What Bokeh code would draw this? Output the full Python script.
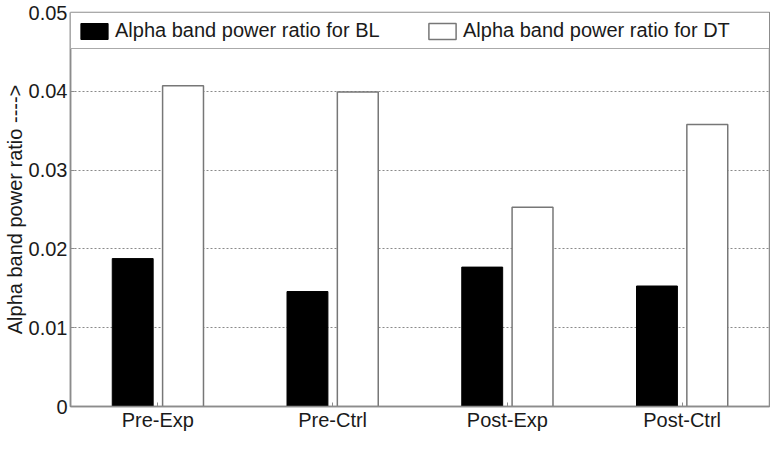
from bokeh.plotting import figure
from bokeh.models import ColumnDataSource, FactorRange, Range1d, FixedTicker, Legend, LegendItem
from bokeh.transform import dodge
from bokeh.embed import file_html
from bokeh.resources import INLINE

categories = ["Pre-Exp", "Pre-Ctrl", "Post-Exp", "Post-Ctrl"]
bl_values = [0.01877, 0.01459, 0.01769, 0.01529]
dt_values = [0.0407, 0.0399, 0.0253, 0.0358]
y_ticks = [0, 0.01, 0.02, 0.03, 0.04, 0.05]
y_tick_labels = ["0", "0.01", "0.02", "0.03", "0.04", "0.05"]
series_names = ["Alpha band power ratio for BL", "Alpha band power ratio for DT"]
y_label = "Alpha band power ratio ---->"

FONT = "Liberation Sans"
TEXT = "#1a1a1a"
FRAME = "#8c8c8c"

source = ColumnDataSource(dict(cat=categories, bl=bl_values, dt=dt_values))

p = figure(x_range=FactorRange(*categories, range_padding=0),
           y_range=Range1d(0, 0.05),
           width=770, height=433,
           output_backend="svg", toolbar_location=None,
           min_border_left=63, min_border_right=1,
           min_border_top=12, min_border_bottom=24)

r_bl = p.vbar(x=dodge("cat", -0.144, range=p.x_range), top="bl", width=0.234,
              source=source, fill_color="black", line_color="black", line_width=1)
r_dt = p.vbar(x=dodge("cat", 0.144, range=p.x_range), top="dt", width=0.234,
              source=source, fill_color="white", line_color="#777777", line_width=1.5)

# grid
p.xgrid.grid_line_color = None
p.ygrid.ticker = FixedTicker(ticks=y_ticks[1:-1])
p.ygrid.grid_line_color = "#8a8a8a"
p.ygrid.grid_line_dash = "2 2"
p.ygrid.grid_line_width = 1

# frame
p.outline_line_color = FRAME
p.outline_line_width = 1.5
p.background_fill_color = "white"
p.border_fill_color = "white"

# y axis
p.yaxis.ticker = FixedTicker(ticks=y_ticks)
p.yaxis.major_label_overrides = {t: l for t, l in zip(y_ticks, y_tick_labels)}
p.yaxis.axis_label = y_label
p.yaxis.axis_label_text_font = FONT
p.yaxis.axis_label_text_font_style = "normal"
p.yaxis.axis_label_text_font_size = "20px"
p.yaxis.axis_label_text_color = TEXT
p.yaxis.axis_label_standoff = 0
p.yaxis.major_label_text_font = FONT
p.yaxis.major_label_text_font_size = "20px"
p.yaxis.major_label_text_color = TEXT
p.yaxis.major_label_standoff = 3
p.yaxis.minor_tick_line_color = None
p.yaxis.major_tick_in = 4
p.yaxis.major_tick_out = 0
p.yaxis.major_tick_line_color = FRAME
p.yaxis.axis_line_color = FRAME
p.yaxis.axis_line_width = 1.5

# x axis
p.xaxis.major_label_text_font = FONT
p.xaxis.major_label_text_font_size = "20px"
p.xaxis.major_label_text_color = TEXT
p.xaxis.major_label_standoff = 2
p.xaxis.major_tick_in = 4
p.xaxis.major_tick_out = 0
p.xaxis.major_tick_line_color = FRAME
p.xaxis.axis_line_color = FRAME
p.xaxis.axis_line_width = 1.5

# legend
legend = Legend(items=[LegendItem(label=series_names[0], renderers=[r_bl]),
                       LegendItem(label=series_names[1], renderers=[r_dt])],
                orientation="horizontal", location="top_left",
                margin=0, padding=6, spacing=3,
                glyph_width=34, glyph_height=20,
                label_standoff=4, label_width=307, label_height=20,
                label_text_font=FONT, label_text_font_size="20px",
                label_text_color=TEXT,
                border_line_color="#555555", border_line_width=1.5,
                background_fill_color="white", background_fill_alpha=1)
p.add_layout(legend, "center")

open("out.html", "w").write(file_html(p, INLINE))
